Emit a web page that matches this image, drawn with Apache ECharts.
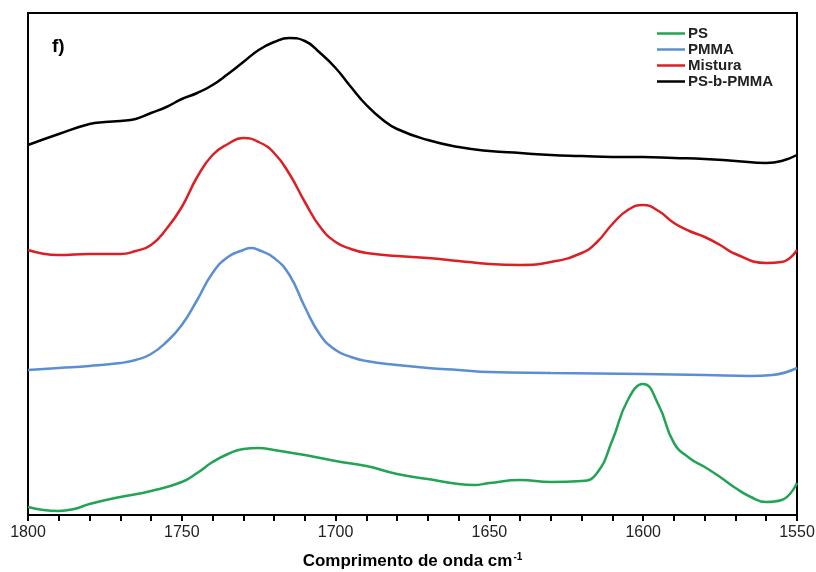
<!DOCTYPE html>
<html>
<head>
<meta charset="utf-8">
<script src="https://cdn.jsdelivr.net/npm/echarts@6/dist/echarts.min.js"></script>
<style>
    html, body { margin: 0; padding: 0; background: #fff; }
    #chart { width: 816px; height: 572px; }
</style>
</head>
<body>
<div id="chart"></div>
<script>
    // wavenumber / intensity (a.u.) pairs
    const psData = [
        [1800, 8], [1795, 5], [1790, 4], [1785, 6], [1780, 11], [1770, 18], [1760, 24],
        [1750, 33], [1745, 42], [1740, 53], [1735, 61], [1730, 66], [1725, 67], [1720, 65],
        [1710, 60], [1700, 54], [1690, 49], [1680, 41], [1670, 36], [1660, 31], [1655, 30],
        [1650, 32], [1640, 35], [1630, 33], [1620, 34], [1615, 42], [1610, 75], [1605, 115],
        [1600, 131], [1595, 110], [1590, 72], [1585, 57], [1580, 48], [1575, 38], [1570, 27],
        [1565, 18], [1560, 13], [1555, 15], [1550, 32]
    ];
    const pmmaData = [
        [1800, 145], [1790, 147], [1780, 149], [1770, 152], [1765, 155], [1760, 161],
        [1755, 173], [1750, 190], [1745, 215], [1740, 242], [1735, 258], [1730, 265],
        [1727.5, 267], [1725, 265], [1720, 257], [1715, 240], [1710, 208], [1705, 180],
        [1700, 165], [1695, 158], [1690, 154], [1680, 150], [1670, 147], [1660, 145],
        [1650, 143], [1630, 142], [1600, 141], [1580, 140], [1565, 139], [1558, 140],
        [1550, 147]
    ];
    const misturaData = [
        [1800, 265], [1790, 260], [1780, 261], [1770, 261], [1765, 264], [1760, 270],
        [1755, 286], [1750, 308], [1745, 338], [1740, 360], [1735, 371], [1730, 377],
        [1725, 373], [1720, 362], [1715, 341], [1710, 313], [1705, 288], [1700, 273],
        [1695, 266], [1690, 262], [1680, 259], [1670, 257], [1660, 254], [1650, 251],
        [1640, 250], [1630, 253], [1620, 262], [1615, 273], [1610, 291], [1605, 305],
        [1600, 310], [1595, 304], [1590, 292], [1585, 284], [1580, 278], [1575, 270],
        [1570, 261], [1560, 252], [1555, 253], [1550, 265]
    ];
    const blockData = [
        [1800, 370], [1790, 381], [1780, 391], [1775, 393], [1770, 394], [1765, 396],
        [1760, 402], [1755, 408], [1750, 416], [1745, 422], [1740, 430], [1735, 441],
        [1730, 453], [1725, 465], [1720, 473], [1715, 477], [1710, 474], [1705, 462],
        [1700, 447], [1695, 428], [1690, 410], [1685, 396], [1680, 386], [1670, 375],
        [1660, 368], [1650, 364], [1640, 362], [1630, 360], [1620, 359], [1610, 358],
        [1600, 358], [1590, 357], [1580, 356], [1570, 354], [1560, 352], [1555, 354],
        [1550, 360]
    ];
    const seriesNames = ['PS', 'PMMA', 'Mistura', 'PS-b-PMMA'];
    const seriesColors = ['#22a356', '#5b8fd1', '#dc1f24', '#000000'];
    const seriesData = [psData, pmmaData, misturaData, blockData];

    const chart = echarts.init(document.getElementById('chart'));

    // legend icon: a plain line segment
    const lineIcon = 'path://M0,0 L28,0 L28,2.5 L0,2.5 Z';

    const option = {
        animation: false,
        grid: {
            left: 28,
            right: 19,
            top: 13,
            bottom: 57,
            outerBoundsMode: 'none',
            show: true,
            borderColor: '#000',
            borderWidth: 2
        },
        legend: {
            orient: 'vertical',
            left: 652,
            top: 21,
            itemWidth: 28,
            itemHeight: 16,
            itemGap: 1,
            data: seriesNames.map(n => ({ name: n, icon: lineIcon })),
            textStyle: {
                color: '#222',
                fontSize: 15,
                fontWeight: 'bold',
                fontFamily: 'Liberation Sans, Arial, sans-serif',
                padding: [0, 0, 0, -2]
            }
        },
        graphic: [{
            type: 'text',
            left: 52,
            top: 37,
            style: {
                text: 'f)',
                fontSize: 19,
                fontWeight: 'bold',
                fontFamily: 'Liberation Sans, Arial, sans-serif',
                fill: '#000'
            }
        }],
        xAxis: {
            type: 'value',
            min: 1550,
            max: 1800,
            interval: 50,
            inverse: true,
            name: '{t|Comprimento de onda cm}{s|-1}',
            nameLocation: 'middle',
            nameGap: 37,
            nameTextStyle: {
                rich: {
                    t: {
                        fontSize: 17,
                        fontWeight: 'bold',
                        color: '#000',
                        fontFamily: 'Liberation Sans, Arial, sans-serif',
                        verticalAlign: 'bottom'
                    },
                    s: {
                        fontSize: 10,
                        fontWeight: 'bold',
                        color: '#000',
                        fontFamily: 'Liberation Sans, Arial, sans-serif',
                        verticalAlign: 'top',
                        padding: [0, 0, 8, 1]
                    }
                }
            },
            axisLine: { onZero: false, lineStyle: { color: '#000', width: 2 } },
            axisTick: { show: true, length: 6, lineStyle: { color: '#000', width: 2 } },
            minorTick: { show: true, splitNumber: 5, length: 6, lineStyle: { color: '#000', width: 2 } },
            splitLine: { show: false },
            axisLabel: {
                color: '#222',
                fontSize: 16,
                margin: 10,
                fontFamily: 'Liberation Sans Narrow, Liberation Sans, Arial, sans-serif',
                formatter: v => String(v)
            }
        },
        yAxis: {
            type: 'value',
            min: 0,
            max: 502,
            show: false
        },
        series: seriesNames.map((name, i) => ({
            name: name,
            type: 'line',
            data: seriesData[i],
            smooth: 0.5,
            symbol: 'none',
            lineStyle: { color: seriesColors[i], width: 2.5 },
            itemStyle: { color: seriesColors[i] }
        }))
    };

    chart.setOption(option);
</script>
</body>
</html>
